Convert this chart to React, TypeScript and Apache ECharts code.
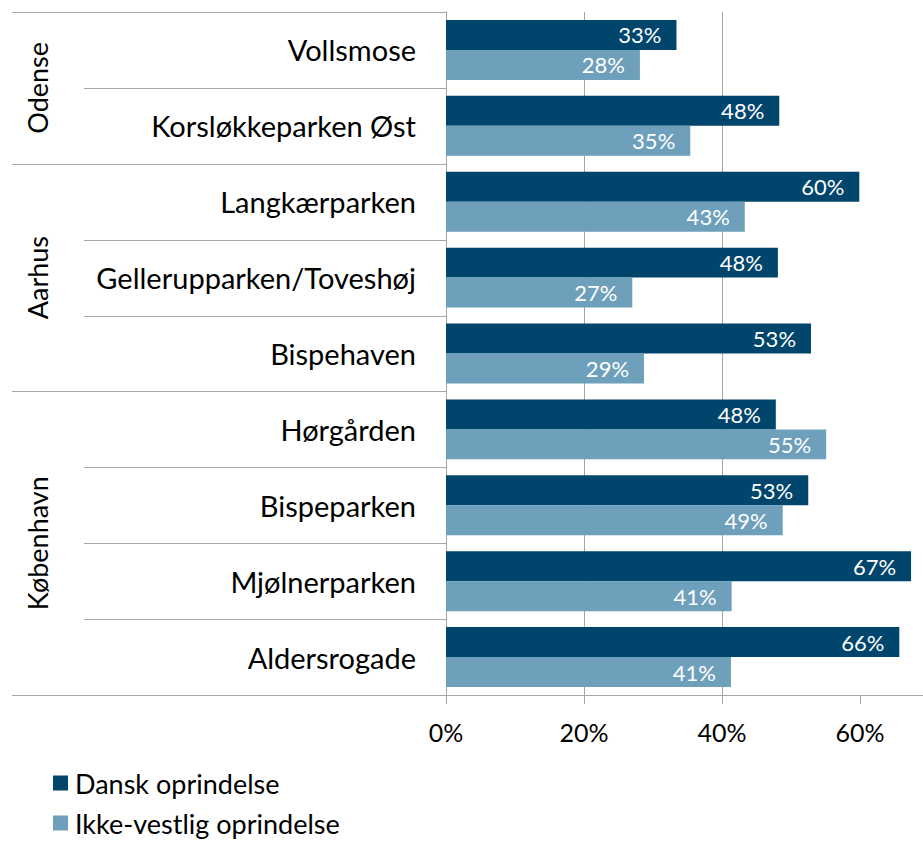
import React, { useEffect, useRef } from "react";
import * as echarts from "echarts";

const categories = [
  "Vollsmose",
  "Korsløkkeparken Øst",
  "Langkærparken",
  "Gellerupparken/Toveshøj",
  "Bispehaven",
  "Hørgården",
  "Bispeparken",
  "Mjølnerparken",
  "Aldersrogade",
];
const groupNames = ["Odense", "Aarhus", "København"];
const groupSizes = [2, 3, 4];
const danskValues = [0.334, 0.483, 0.599, 0.481, 0.529, 0.478, 0.525, 0.674, 0.657];
const ikkeVestligValues = [0.281, 0.354, 0.433, 0.27, 0.287, 0.551, 0.488, 0.414, 0.413];
const seriesNames = ["Dansk oprindelse", "Ikke-vestlig oprindelse"];
const xTicks = [0, 0.2, 0.4, 0.6];

const FONT = "Lato";
const DARK = "#00456c";
const LIGHT = "#6e9fbb";
const LINE = "#a6a6a6";

export default function App() {
  const ref = useRef<HTMLDivElement>(null);
  useEffect(() => {
    if (!ref.current) return;
    const chart = echarts.init(ref.current, null, { renderer: "svg" });
    const H = 843;
    const gridLeft = 446;
    const gridTop = 12;
    const gridBottom = 148;
    const plotH = H - gridTop - gridBottom;
    const rowH = plotH / categories.length;
    const tableLeft = 12;
    const subLeft = 84;

    const graphics: any[] = [];
    let idx = 0;
    const groupBounds: number[] = [0];
    groupSizes.forEach((s) => {
      idx += s;
      groupBounds.push(idx);
    });
    for (let k = 0; k <= categories.length; k++) {
      const y = Math.round(gridTop + rowH * k) + 0.5;
      const isGroup = groupBounds.includes(k);
      graphics.push({
        type: "line",
        shape: { x1: isGroup ? tableLeft : subLeft, y1: y, x2: gridLeft, y2: y },
        style: { stroke: LINE, lineWidth: 1 },
        silent: true,
      });
    }
    let start = 0;
    groupSizes.forEach((s, i) => {
      const cy = gridTop + rowH * (start + s / 2);
      graphics.push({
        type: "text",
        x: 37,
        y: cy,
        rotation: Math.PI / 2,
        style: {
          text: groupNames[i],
          font: `27px ${FONT}`,
          fill: "#000",
          textAlign: "center",
          textVerticalAlign: "middle",
        },
        silent: true,
      });
      start += s;
    });

    const labelCfg = {
      show: true,
      position: "insideRight",
      distance: 15,
      color: "#fff",
      fontFamily: FONT,
      fontSize: 22,
      formatter: (p: any) => Math.round(p.value * 100) + "%",
    };

    const legendBase = {
      orient: "vertical",
      left: 48,
      itemWidth: 15,
      itemHeight: 15,
      icon: "rect",
      textStyle: { fontFamily: FONT, fontSize: 27, color: "#000", lineHeight: 30, padding: [0, 0, 0, 2] },
    };

    chart.setOption({
      animation: false,
      textStyle: { fontFamily: FONT },
      grid: { left: gridLeft, top: gridTop, bottom: gridBottom, right: 0, containLabel: false },
      legend: [
        { ...legendBase, top: 763, data: [seriesNames[0]] },
        { ...legendBase, top: 803, data: [seriesNames[1]] },
      ],
      xAxis: {
        type: "value",
        min: 0,
        max: 0.6913,
        interval: 0.2,
        axisLine: { show: true, lineStyle: { color: LINE, width: 1 } },
        axisTick: { show: true, length: 9, lineStyle: { color: LINE }, customValues: xTicks },
        axisLabel: {
          customValues: xTicks,
          margin: 24,
          fontFamily: FONT,
          fontSize: 25,
          color: "#000",
          formatter: (v: number) => Math.round(v * 100) + "%",
        },
        splitLine: { show: true, showMinLine: false, showMaxLine: false, lineStyle: { color: LINE, width: 1 } },
      },
      yAxis: {
        type: "category",
        inverse: true,
        data: categories,
        axisLine: { show: true, lineStyle: { color: LINE, width: 1 } },
        axisTick: { show: false },
        axisLabel: { margin: 30, fontFamily: FONT, fontSize: 29, color: "#000" },
      },
      series: [
        {
          name: seriesNames[0],
          type: "bar",
          data: danskValues,
          itemStyle: { color: DARK },
          barGap: "0%",
          barCategoryGap: "21%",
          label: labelCfg,
        },
        {
          name: seriesNames[1],
          type: "bar",
          data: ikkeVestligValues,
          itemStyle: { color: LIGHT },
          barGap: "0%",
          barCategoryGap: "21%",
          label: labelCfg,
        },
      ],
      graphic: graphics,
    });
    return () => chart.dispose();
  }, []);
  return (
    <div
      ref={ref}
      style={{ position: "absolute", left: 0, top: 0, width: 923, height: 843, background: "#fff" }}
    />
  );
}
